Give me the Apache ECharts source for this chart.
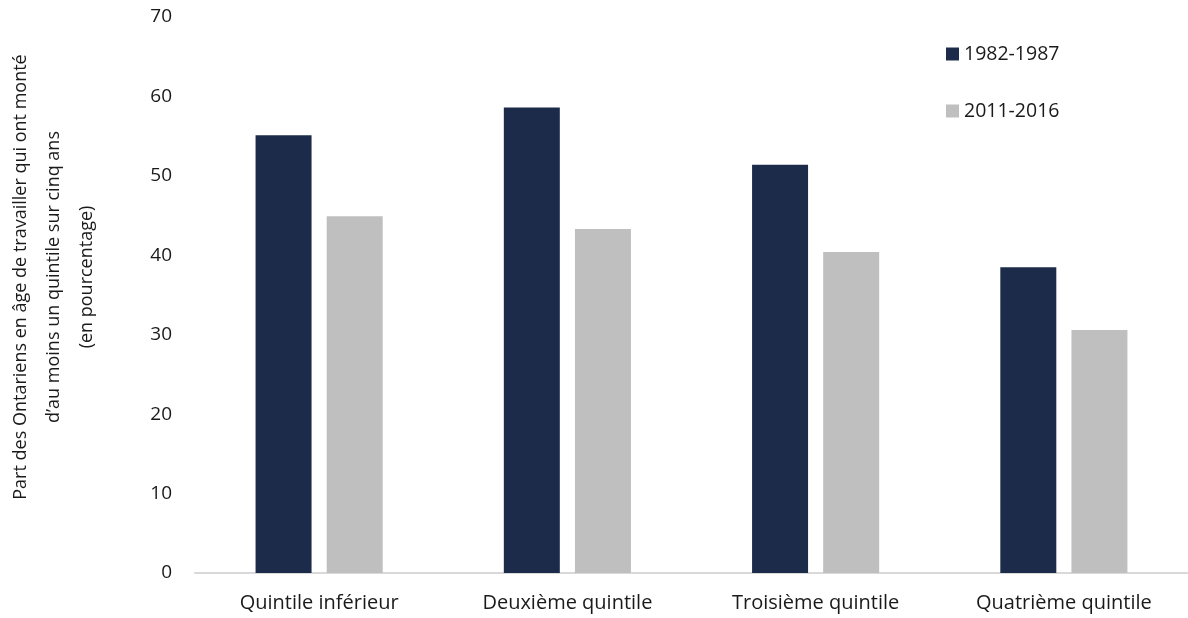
<!DOCTYPE html>
<html>
<head>
<meta charset="utf-8">
<script src="https://cdn.jsdelivr.net/npm/echarts@6/dist/echarts.min.js"></script>
<style>
  html, body { margin: 0; padding: 0; background: #ffffff; }
  #chart { width: 1188px; height: 618px; }
</style>
</head>
<body>
<div id="chart"></div>
<script>
// Quintile categories and the share moving up at least one quintile (%)
const categories = ['Quintile inférieur', 'Deuxième quintile', 'Troisième quintile', 'Quatrième quintile'];
const seriesNames = ['1982-1987', '2011-2016'];
const values1982 = [55.1, 58.6, 51.4, 38.5];
const values2011 = [44.9, 43.3, 40.4, 30.6];
const yTitleLines = [
  'Part des Ontariens en âge de travailler qui ont monté',
  'd\u2019au moins un quintile sur cinq ans',
  '(en pourcentage)'
];

const FONT = '"Open Sans", "Noto Sans", sans-serif';
const TEXT = '#1a1a1a';

const chart = echarts.init(document.getElementById('chart'), null, { renderer: 'canvas' });

chart.setOption({
  animation: false,
  backgroundColor: '#ffffff',
  textStyle: { fontFamily: FONT },
  grid: { left: 195, right: 0, top: 17, bottom: 45, containLabel: false },
  legend: {
    orient: 'vertical',
    left: 941,
    top: 39,
    itemWidth: 13,
    itemHeight: 13,
    itemGap: 37,
    icon: 'rect',
    textStyle: { fontFamily: FONT, fontSize: 19.5, color: TEXT },
    data: seriesNames
  },
  xAxis: {
    type: 'category',
    data: categories,
    axisLine: { show: true, lineStyle: { color: '#d9d9d9', width: 2 } },
    axisTick: { show: false },
    axisLabel: { color: TEXT, fontSize: 20, fontFamily: FONT, margin: 20 }
  },
  yAxis: {
    type: 'value',
    min: 0,
    max: 70,
    interval: 10,
    axisLine: { show: false },
    axisTick: { show: false },
    splitLine: { show: false },
    axisLabel: { color: TEXT, fontSize: 19, fontFamily: FONT, margin: 23 }
  },
  graphic: [{
    type: 'text',
    x: 54,
    y: 277,
    rotation: Math.PI / 2,
    style: {
      text: yTitleLines.join('\n'),
      fontFamily: FONT,
      fontSize: 18,
      lineHeight: 33,
      fill: TEXT,
      align: 'center',
      verticalAlign: 'middle'
    }
  }],
  series: [
    {
      name: seriesNames[0],
      type: 'bar',
      data: values1982,
      barWidth: 56,
      barGap: '27%',
      itemStyle: { color: '#1d2b4a' }
    },
    {
      name: seriesNames[1],
      type: 'bar',
      data: values2011,
      barWidth: 56,
      itemStyle: { color: '#bfbfbf' }
    }
  ]
});
</script>
</body>
</html>
